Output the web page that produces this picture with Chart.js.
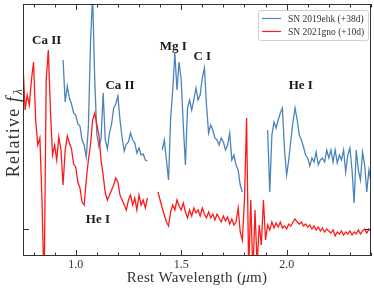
<!DOCTYPE html>
<html>
<head>
<meta charset="utf-8">
<script src="https://cdn.jsdelivr.net/npm/chart.js@4"></script>
<style>
  body { margin: 0; background: #fff; }
  #spec { display: block; }
</style>
</head>
<body>
<canvas id="spec" width="374" height="291"></canvas>
<script>
// wavelength grid step (micron) for the hand-read spectra
const step = 0.01;

// SN 2019ehk (+38d), three segments between telluric gaps
const ehkStarts = [0.94, 1.41, 1.91];
const ehkFluxA = [
  1.69, 1.27, 1.43, 1.31, 1.25, 1.16, 1.14, 1.05, 1.03, 0.89,
  0.84, 0.72, 1.02, 1.86, 2.34, 1.5, 0.95, 0.82, 0.9, 1.36,
  0.89, 0.8, 0.96, 1.05, 1.21, 1.25, 1.33, 1.09, 0.91, 0.78,
  0.85, 0.87, 0.96, 0.89, 0.86, 0.76, 0.81, 0.74, 0.75, 0.69, 0.68,
];
const ehkFluxB = [
  0.79, 0.89, 0.69, 0.49, 1.11, 1.39, 1.76, 1.39, 1.67, 1.49,
  1.04, 0.64, 1.21, 1.29, 1.19, 1.29, 1.41, 1.29, 1.34, 1.51,
  1.61, 1.24, 0.96, 1.04, 0.99, 0.91, 0.89, 0.84, 0.91, 0.87,
  0.79, 0.84, 0.96, 0.69, 0.74, 0.64, 0.59, 0.44, 0.37,
];
const ehkFluxC = [
  0.99, 0.37, 0.94, 1.07, 1.01, 1.09, 1.16, 1.21, 0.79, 0.54,
  0.69, 0.89, 1.07, 1.21, 1.09, 0.94, 0.89, 0.82, 0.74, 0.71,
  0.63, 0.71, 0.67, 0.77, 0.64, 0.69, 0.71, 0.67, 0.79, 0.71,
  0.79, 0.67, 0.79, 0.66, 0.74, 0.69, 0.79, 0.57, 0.74, 0.81,
  0.59, 0.26, 0.79, 0.59, 0.49, 0.77, 0.64, 0.37, 0.59, 0.47,
];

// SN 2021gno (+10d), two segments
const gnoStarts = [0.75, 1.39];
const gnoFluxA = [
  1.64, 1.19, 1.34, 1.24, 1.49, 1.67, 1.09, 0.84, 0.91, 0.29,
  -0.61, 1.49, 1.79, 1.19, 0.74, 0.84, 0.69, 0.92, 0.79, 0.44,
  0.79, 0.93, 0.86, 0.8, 0.65, 0.62, 0.47, 0.41, 0.27, 0.24,
  0.49, 0.69, 0.84, 1.09, 1.16, 1.04, 0.94, 0.69, 0.54, 0.36,
  0.29, 0.34, 0.39, 0.44, 0.51, 0.47, 0.34, 0.29, 0.24, 0.19,
  0.29, 0.34, 0.24, 0.31, 0.19, 0.34, 0.24, 0.29, 0.21, 0.31,
];
const gnoFluxB = [
  0.37, 0.29, 0.21, 0.14, 0.07, 0.03, 0.17, 0.24, 0.19, 0.29,
  0.23, 0.19, 0.26, 0.17, 0.11, 0.19, 0.13, 0.21, 0.16, 0.19,
  0.13, 0.21, 0.15, 0.11, 0.17, 0.11, 0.15, 0.09, 0.15, 0.11,
  0.07, 0.13, 0.08, 0.12, 0.05, 0.1, 0.04, 0.07, 0.21, -0.03,
  -0.11, 0.29, 1.11, -0.41, 0.29, -0.46, 0.19, -0.36, 0.04, -0.16,
  0.29, -0.11, 0.04, -0.01, 0.07, 0.01, 0.06, 0.02, 0.07, 0.01,
  0.03, 0.0, 0.05, 0.03, 0.07, 0.1, 0.07, 0.05, 0.07, 0.03,
  0.05, 0.02, 0.04, 0.0, 0.03, -0.01, 0.02, -0.02, 0.01, -0.03,
  0.0, -0.02, -0.04, -0.01, -0.07, -0.03, -0.05, -0.02, -0.06, -0.03,
  -0.05, -0.02, -0.06, -0.03, -0.05, -0.01, -0.05, -0.02, 0.0, -0.04,
  0.0, -0.03,
];

const seriesNames = ["SN 2019ehk (+38d)", "SN 2021gno (+10d)"];
const seriesColors = ["#4a84ba", "#ff1a1a"];

// axis ticks
const xMajorTicks = [1.0, 1.5, 2.0];
const xMinorTicks = [0.8, 0.9, 1.1, 1.2, 1.3, 1.4, 1.6, 1.7, 1.8, 1.9, 2.1, 2.2, 2.3, 2.4];
const yTicks = [0];

// line identifications: [text, wavelength, flux]
const lineLabels = [
  ["Ca II", 0.862, 1.88],
  ["Ca II", 1.21, 1.43],
  ["Mg I", 1.462, 1.82],
  ["C I", 1.6, 1.72],
  ["He I", 2.067, 1.43],
  ["He I", 1.105, 0.09],
];

const serif = "'Liberation Serif', 'DejaVu Serif', serif";

function toPoints(starts, segments) {
  const pts = [];
  segments.forEach((seg, i) => {
    if (i > 0) pts.push({ x: starts[i] - step / 2, y: null });
    seg.forEach((f, j) => {
      pts.push({ x: +(starts[i] + j * step).toFixed(3), y: f });
    });
  });
  return pts;
}

const overlay = {
  id: "overlay",
  afterDraw(chart) {
    const { ctx, chartArea: a, scales } = chart;
    const xs = scales.x, ys = scales.y;
    ctx.save();

    // frame
    ctx.strokeStyle = "#333";
    ctx.lineWidth = 1;
    ctx.strokeRect(a.left + 0.5, a.top + 0.5, a.right - a.left - 1, a.bottom - a.top - 1);

    // inward ticks, mirrored on top
    ctx.beginPath();
    const tick = (v, len) => {
      const px = Math.round(xs.getPixelForValue(v)) + 0.5;
      ctx.moveTo(px, a.bottom);
      ctx.lineTo(px, a.bottom - len);
      ctx.moveTo(px, a.top);
      ctx.lineTo(px, a.top + len);
    };
    xMajorTicks.forEach((v) => tick(v, 6));
    xMinorTicks.forEach((v) => tick(v, 3.5));
    yTicks.forEach((v) => {
      const py = Math.round(ys.getPixelForValue(v)) + 0.5;
      ctx.moveTo(a.left, py);
      ctx.lineTo(a.left + 6, py);
      ctx.moveTo(a.right, py);
      ctx.lineTo(a.right - 6, py);
    });
    ctx.stroke();

    // line identifications
    ctx.fillStyle = "#1a1a1a";
    ctx.font = "bold 13px " + serif;
    ctx.textAlign = "center";
    ctx.textBaseline = "middle";
    lineLabels.forEach(([t, w, f]) => {
      ctx.fillText(t, xs.getPixelForValue(w), ys.getPixelForValue(f));
    });

    // legend box
    const lx = 258, ly = 10, lw = 110, lh = 30;
    ctx.fillStyle = "rgba(255,255,255,0.85)";
    ctx.strokeStyle = "#d0d0d0";
    ctx.beginPath();
    ctx.roundRect(lx + 0.5, ly + 0.5, lw, lh, 2);
    ctx.fill();
    ctx.stroke();
    ctx.textAlign = "left";
    ctx.font = "9.5px " + serif;
    seriesNames.forEach((name, i) => {
      const ry = ly + 8 + i * 13;
      ctx.strokeStyle = seriesColors[i];
      ctx.lineWidth = 1.2;
      ctx.beginPath();
      ctx.moveTo(lx + 4, ry + 0.5);
      ctx.lineTo(lx + 23, ry + 0.5);
      ctx.stroke();
      ctx.fillStyle = "#333";
      ctx.fillText(name, lx + 30, ry + 1);
    });

    // x title with italic mu
    ctx.fillStyle = "#333";
    ctx.textBaseline = "alphabetic";
    ctx.letterSpacing = "0.3px";
    const partsX = [["Rest Wavelength (", "15px "], ["\u03bc", "italic 15px "], ["m)", "15px "]];
    let total = 0;
    partsX.forEach(([t, f]) => { ctx.font = f + serif; total += ctx.measureText(t).width; });
    let cx = (a.left + a.right) / 2 - total / 2;
    partsX.forEach(([t, f]) => {
      ctx.font = f + serif;
      ctx.fillText(t, cx, 282);
      cx += ctx.measureText(t).width;
    });

    // y title: Relative f_lambda
    ctx.translate(19, 133);
    ctx.rotate(-Math.PI / 2);
    ctx.letterSpacing = "1.2px";
    const partsY = [["Relative ", "18px ", 0], ["f", "italic 18px ", 0], ["\u03bb", "italic 13px ", 3]];
    total = 0;
    partsY.forEach(([t, f]) => { ctx.font = f + serif; total += ctx.measureText(t).width; });
    cx = -total / 2;
    partsY.forEach(([t, f, dy]) => {
      ctx.font = f + serif;
      ctx.fillText(t, cx, dy);
      cx += ctx.measureText(t).width + (t === "f" ? 1 : 0);
    });
    ctx.restore();
  },
};

const ctx = document.getElementById("spec").getContext("2d");
new Chart(ctx, {
  type: "line",
  data: {
    datasets: [
      {
        label: seriesNames[0],
        data: toPoints(ehkStarts, [ehkFluxA, ehkFluxB, ehkFluxC]),
        borderColor: seriesColors[0],
        borderWidth: 1.3,
        pointRadius: 0,
        tension: 0,
        order: 2,
      },
      {
        label: seriesNames[1],
        data: toPoints(gnoStarts, [gnoFluxA, gnoFluxB]),
        borderColor: seriesColors[1],
        borderWidth: 1.3,
        pointRadius: 0,
        tension: 0,
        order: 1,
      },
    ],
  },
  options: {
    responsive: false,
    animation: false,
    devicePixelRatio: 1,
    layout: { padding: { top: 4, right: 3, left: 0, bottom: 0 } },
    plugins: { legend: { display: false }, tooltip: { enabled: false } },
    scales: {
      x: {
        type: "linear",
        min: 0.75,
        max: 2.4,
        border: { display: false },
        grid: { display: false, drawTicks: false },
        afterBuildTicks: (scale) => {
          scale.ticks = xMajorTicks.map((v) => ({ value: v }));
        },
        afterFit: (scale) => { scale.height = 35; },
        ticks: {
          padding: 2,
          maxRotation: 0,
          color: "#333",
          font: { family: serif, size: 12 },
          callback: (v) => Number(v).toFixed(1),
        },
      },
      y: {
        min: -0.27,
        max: 2.25,
        border: { display: false },
        grid: { display: false, drawTicks: false },
        ticks: { display: false },
        afterFit: (scale) => { scale.width = 23; },
      },
    },
  },
  plugins: [overlay],
});
</script>
</body>
</html>
